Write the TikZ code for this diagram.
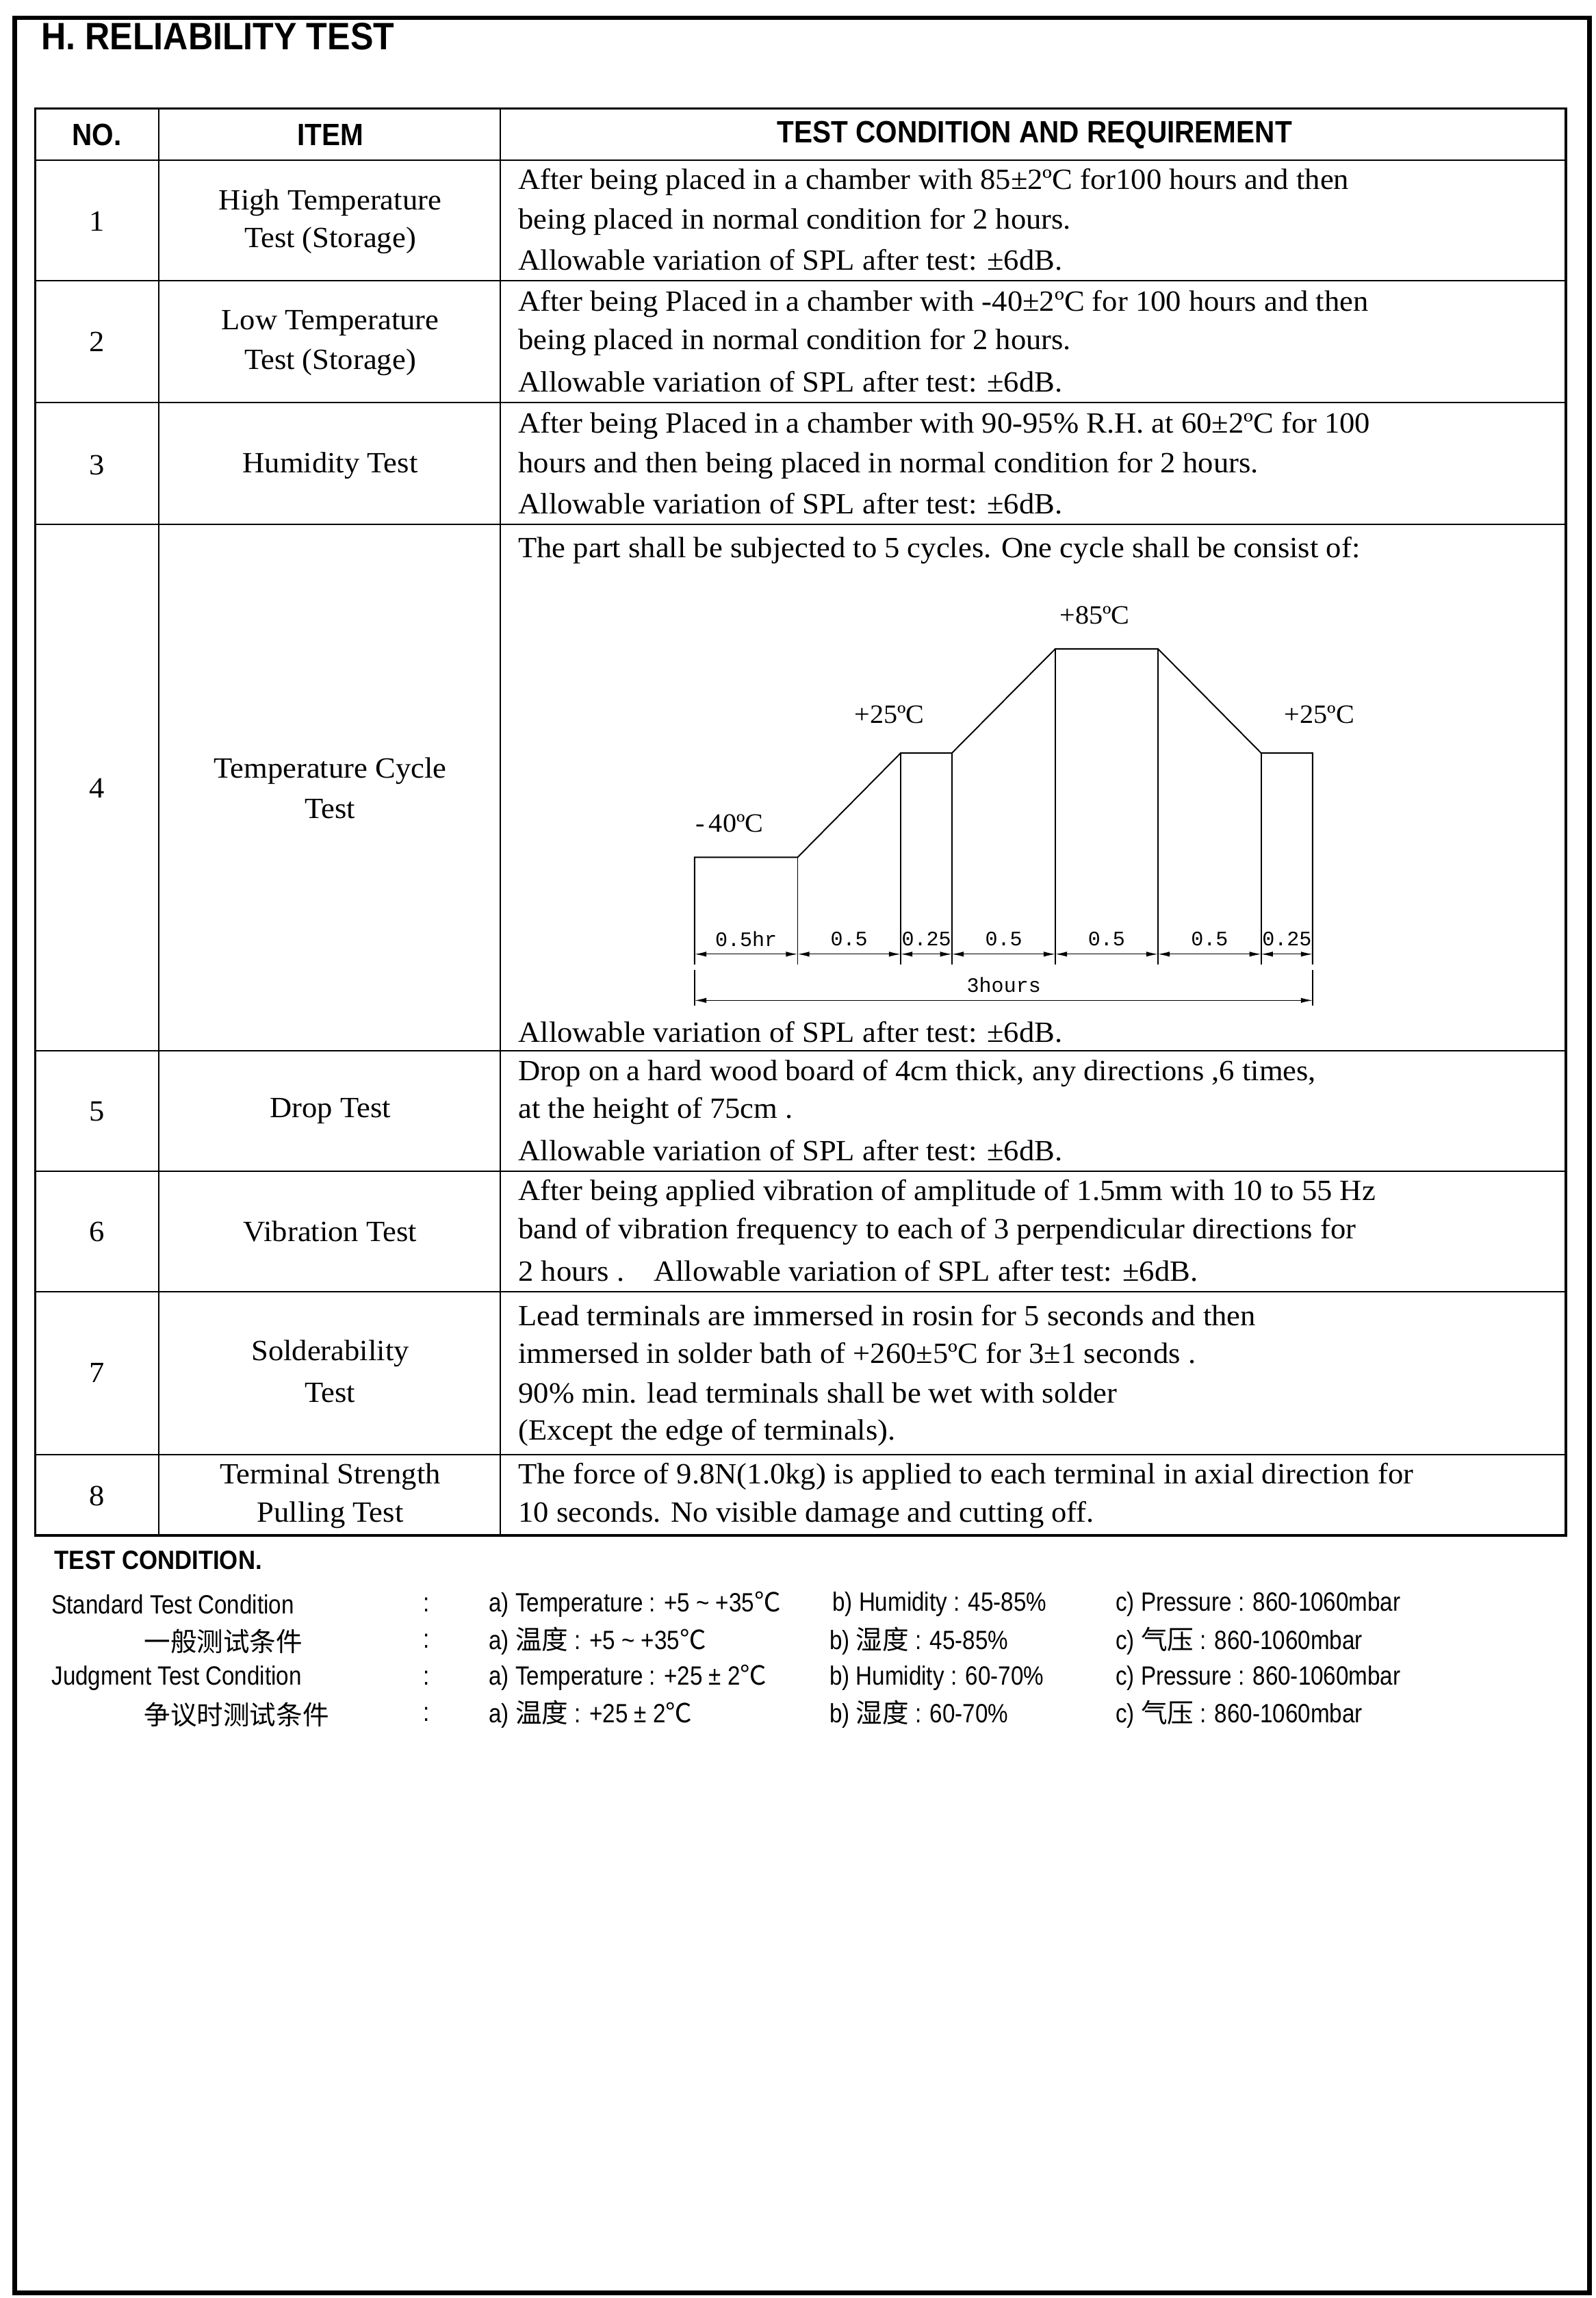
\documentclass[tikz,border=0pt]{standalone}
\usepackage{fontspec}
\setmainfont{Liberation Serif}[FakeStretch=1.04]
\newfontfamily\sansn[FakeStretch=0.86]{Liberation Sans}
\newfontfamily\sansb[FakeStretch=0.9]{Liberation Sans Bold}
\newfontfamily\monof{Liberation Mono}
\newfontfamily\cjk{Noto Sans CJK SC}
\usetikzlibrary{arrows.meta}
\begin{document}
\begin{tikzpicture}[x=1pt,y=-1pt,
  body/.style={anchor=west,inner sep=0pt,font=\fontsize{20}{24}\selectfont},
  ctr/.style={anchor=center,inner sep=0pt,font=\fontsize{20}{24}\selectfont},
  hdr/.style={anchor=center,inner sep=0pt,font=\sansb\fontsize{21}{24}\selectfont},
  cond/.style={anchor=west,inner sep=0pt,font=\sansn\fontsize{18}{22}\selectfont},
  chl/.style={anchor=center,inner sep=0pt,font=\fontsize{18}{22}\selectfont},
  dim/.style={anchor=center,inner sep=0pt,font=\monof\fontsize{14}{16}\selectfont},
  thin/.style={line width=0.9pt},
  dimarr/.style={line width=0.6pt,{Latex[length=8pt,width=3.5pt]}-{Latex[length=8pt,width=3.5pt]}}]
\useasboundingbox (0,0) rectangle (1087.3,1565.5);
\fill[white] (0,0) rectangle (1087.3,1565.5);
\draw[line width=3pt] (10,12) rectangle (1083,1562);
\node[anchor=west,inner sep=0pt,font=\sansb\fontsize{26}{28}\selectfont] (title) at (28,25) {H. RELIABILITY TEST};
% table
\draw[line width=1.5pt] (24,74) rectangle (1067,1046);
\foreach \y in {109,191,274,357,716,798,880,991} \draw[thin] (24,\y) -- (1067,\y);
\draw[thin] (108,74) -- (108,1046);
\draw[thin] (341,74) -- (341,1046);
\node[hdr] (hno) at (66,92) {NO.};
\node[hdr] (hit) at (225,92) {ITEM};
\node[hdr] (htc) at (705,92) {TEST CONDITION AND REQUIREMENT};
% numbers
\foreach \n/\y in {1/151,2/233,3/317,4/537,5/757,6/839,7/935,8/1019}
  \node[ctr] (n\n) at (66,\y) {\n};
% items
\node[ctr] (i1a) at (225,138) {High Temperature};
\node[ctr] (i1b) at (225,164) {Test (Storage)};
\node[ctr] (i2a) at (225,220) {Low Temperature};
\node[ctr] (i2b) at (225,247) {Test (Storage)};
\node[ctr] (i3) at (225,317) {Humidity Test};
\node[ctr] (i4a) at (225,525) {Temperature Cycle};
\node[ctr] (i4b) at (225,551) {Test};
\node[ctr] (i5) at (225,757) {Drop Test};
\node[ctr] (i6) at (225,839) {Vibration Test};
\node[ctr] (i7a) at (225,922) {Solderability};
\node[ctr] (i7b) at (225,949) {Test};
\node[ctr] (i8a) at (225,1006) {Terminal Strength};
\node[ctr] (i8b) at (225,1032) {Pulling Test};
% conditions
\node[body] (t1a) at (353,124) {After being placed in a chamber with 85±2ºC for100 hours and then};
\node[body] (t1b) at (353,151) {being placed in normal condition for 2 hours.};
\node[body] (t1c) at (353,177) {Allowable variation of SPL after test: ±6dB.};
\node[body] (t2a) at (353,207) {After being Placed in a chamber with -40±2ºC for 100 hours and then};
\node[body] (t2b) at (353,233) {being placed in normal condition for 2 hours.};
\node[body] (t2c) at (353,260) {Allowable variation of SPL after test: ±6dB.};
\node[body] (t3a) at (353,290) {After being Placed in a chamber with 90-95\% R.H. at 60±2ºC for 100};
\node[body] (t3b) at (353,317) {hours and then being placed in normal condition for 2 hours.};
\node[body] (t3c) at (353,343) {Allowable variation of SPL after test: ±6dB.};
\node[body] (t4a) at (353,375) {The part shall be subjected to 5 cycles. One cycle shall be consist of:};
\node[body] (t4b) at (353,703) {Allowable variation of SPL after test: ±6dB.};
\node[body] (t5a) at (353,731) {Drop on a hard wood board of 4cm thick, any directions ,6 times,};
\node[body] (t5b) at (353,757) {at the height of 75cm .};
\node[body] (t5c) at (353,784) {Allowable variation of SPL after test: ±6dB.};
\node[body] (t6a) at (353,813) {After being applied vibration of amplitude of 1.5mm with 10 to 55 Hz};
\node[body] (t6b) at (353,839) {band of vibration frequency to each of 3 perpendicular directions for};
\node[body] (t6c) at (353,866) {2 hours .\quad Allowable variation of SPL after test: ±6dB.};
\node[body] (t7a) at (353,896) {Lead terminals are immersed in rosin for 5 seconds and then};
\node[body] (t7b) at (353,922) {immersed in solder bath of +260±5ºC for 3±1 seconds .};
\node[body] (t7c) at (353,949) {90\% min. lead terminals shall be wet with solder};
\node[body] (t7d) at (353,976) {(Except the edge of terminals).};
\node[body] (t8a) at (353,1006) {The force of 9.8N(1.0kg) is applied to each terminal in axial direction for};
\node[body] (t8b) at (353,1032) {10 seconds. No visible damage and cutting off.};
% chart
\coordinate (p0) at (473.3,584);
\coordinate (p1) at (543.5,584);
\coordinate (p2) at (613.7,513);
\coordinate (p3) at (648.6,513);
\coordinate (p4) at (719.1,442);
\coordinate (p5) at (789.0,442);
\coordinate (p6) at (859.3,513);
\coordinate (p7) at (894.4,513);
\draw[thin] (473.3,657) -- (p0) -- (p1) -- (p2) -- (p3) -- (p4) -- (p5) -- (p6) -- (p7) -- (894.4,657);
\draw[thin] (543.5,657) -- (p1);
\draw[thin] (613.7,657) -- (p2); \draw[thin] (648.6,657) -- (p3);
\draw[thin] (719.1,657) -- (p4); \draw[thin] (789.0,657) -- (p5);
\draw[thin] (859.3,657) -- (p6);
\foreach \a/\b in {473.3/543.5,543.5/613.7,613.7/648.6,648.6/719.1,719.1/789.0,789.0/859.3,859.3/894.4}
  \draw[dimarr] (\a,650) -- (\b,650);
\draw[thin] (473.3,661) -- (473.3,685);
\draw[thin] (894.4,661) -- (894.4,685);
\draw[dimarr] (473.3,681.5) -- (894.4,681.5);
\node[dim] (d1) at (508.4,639.5) {0.5hr};
\node[dim] (d2) at (578.6,639.5) {0.5};
\node[dim] (d3) at (631.2,639.5) {0.25};
\node[dim] (d4) at (683.9,639.5) {0.5};
\node[dim] (d5) at (754.0,639.5) {0.5};
\node[dim] (d6) at (824.2,639.5) {0.5};
\node[dim] (d7) at (876.9,639.5) {0.25};
\node[dim] (d8) at (684,671) {3hours};
\node[chl] (l1) at (497,561) {-\,40ºC};
\node[chl] (l2) at (606,487) {+25ºC};
\node[chl] (l3) at (746,419) {+85ºC};
\node[chl] (l4) at (899,487) {+25ºC};
% test condition
\node[anchor=west,inner sep=0pt,font=\sansb\fontsize{18}{20}\selectfont] (tc) at (37,1063) {TEST CONDITION.};
\node[cond] (s1) at (35,1093) {Standard Test Condition};
\node[cond] (s2) at (98,1118) {\cjk 一般测试条件};
\node[cond] (s3) at (35,1143) {Judgment Test Condition};
\node[cond] (s4) at (98,1168) {\cjk 争议时测试条件};
\foreach \y/\k in {1093/1,1118/2,1143/3,1168/4} \node[cond] (c\k) at (288,\y) {:};
\node[cond] (a1) at (333,1093) {a) Temperature : +5 \textasciitilde\ +35{\cjk ℃}};
\node[cond] (a2) at (333,1118) {a)\ {\cjk 温度} : +5 \textasciitilde\ +35{\cjk ℃}};
\node[cond] (a3) at (333,1143) {a) Temperature : +25 ± 2{\cjk ℃}};
\node[cond] (a4) at (333,1168) {a)\ {\cjk 温度} : +25 ± 2{\cjk ℃}};
\node[cond] (b1) at (567,1093) {b) Humidity : 45-85\%};
\node[cond] (b2) at (565,1118) {b)\ {\cjk 湿度} : 45-85\%};
\node[cond] (b3) at (565,1143) {b) Humidity : 60-70\%};
\node[cond] (b4) at (565,1168) {b)\ {\cjk 湿度} : 60-70\%};
\node[cond] (e1) at (760,1093) {c) Pressure : 860-1060mbar};
\node[cond] (e2) at (760,1118) {c)\ {\cjk 气压} : 860-1060mbar};
\node[cond] (e3) at (760,1143) {c) Pressure : 860-1060mbar};
\node[cond] (e4) at (760,1168) {c)\ {\cjk 气压} : 860-1060mbar};
\end{tikzpicture}
\end{document}
